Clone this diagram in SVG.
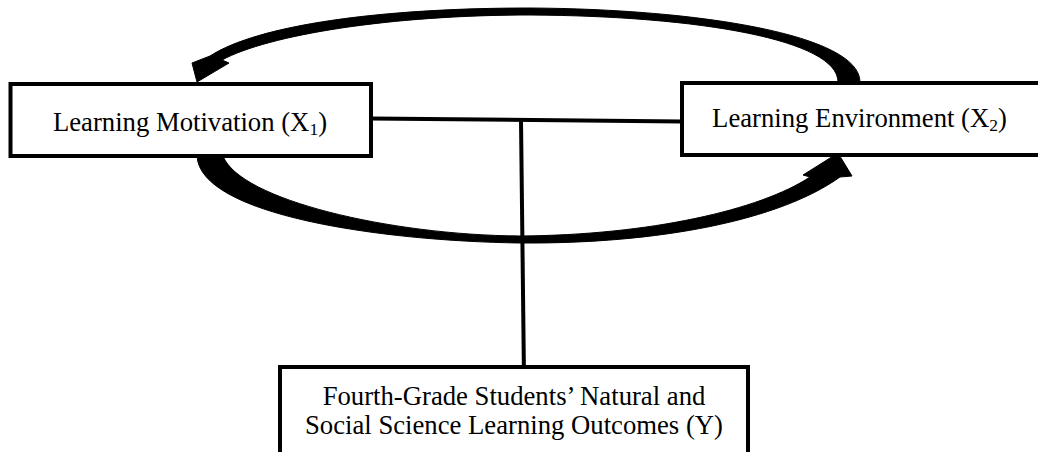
<svg xmlns="http://www.w3.org/2000/svg" width="1038" height="452" viewBox="0 0 1038 452">
  <style>
    .box { fill: #ffffff; stroke: #000000; stroke-width: 4; }
    .lbl { font-family: "Liberation Serif", "Times New Roman", serif; font-size: 26.7px; fill: #000000; text-anchor: middle; }
    .sub { font-size: 17.5px; }
    .line { stroke: #000000; stroke-width: 4; fill: none; }
    .arc { fill: #000000; stroke: #000000; stroke-width: 1; stroke-linejoin: round; }
  </style>
  <rect x="0" y="0" width="1038" height="452" fill="#ffffff"/>

  <g id="connectors">
    <line class="line" x1="371" y1="118.5" x2="682" y2="121.5"/>
    <line class="line" x1="521" y1="120" x2="524" y2="378"/>
    <path id="arc-top" class="arc" d="M 860 82 C 860 35, 700 9, 530 8 C 380 8, 258 25, 210 56 L 192 63 L 197 82 L 229 63 L 222 60 C 268 35, 390 15, 530 15 C 700 16, 838 40, 838 82 Z"/>
    <path id="arc-bottom" class="arc" d="M 197 156 C 200 215, 380 241, 520 243 C 660 244, 780 220, 840 177 L 852 176 L 838 153 L 803 175 L 810 177 C 760 210, 650 235, 520 236 C 390 235, 240 200, 223 156 Z"/>
  </g>

  <g id="node-x1">
    <rect class="box" x="10.5" y="84" width="360.5" height="72"/>
    <text class="lbl" x="190" y="131">Learning Motivation (X<tspan class="sub" dy="4">1</tspan><tspan dy="-4">)</tspan></text>
  </g>

  <g id="node-x2">
    <rect class="box" x="682" y="83" width="360" height="72"/>
    <text class="lbl" x="859.5" y="127">Learning Environment (X<tspan class="sub" dy="4">2</tspan><tspan dy="-4">)</tspan></text>
  </g>

  <g id="node-y">
    <rect class="box" x="280" y="367" width="468" height="100"/>
    <text class="lbl" x="514" y="405">Fourth-Grade Students’ Natural and</text>
    <text class="lbl" x="514" y="434">Social Science Learning Outcomes (Y)</text>
  </g>
</svg>
